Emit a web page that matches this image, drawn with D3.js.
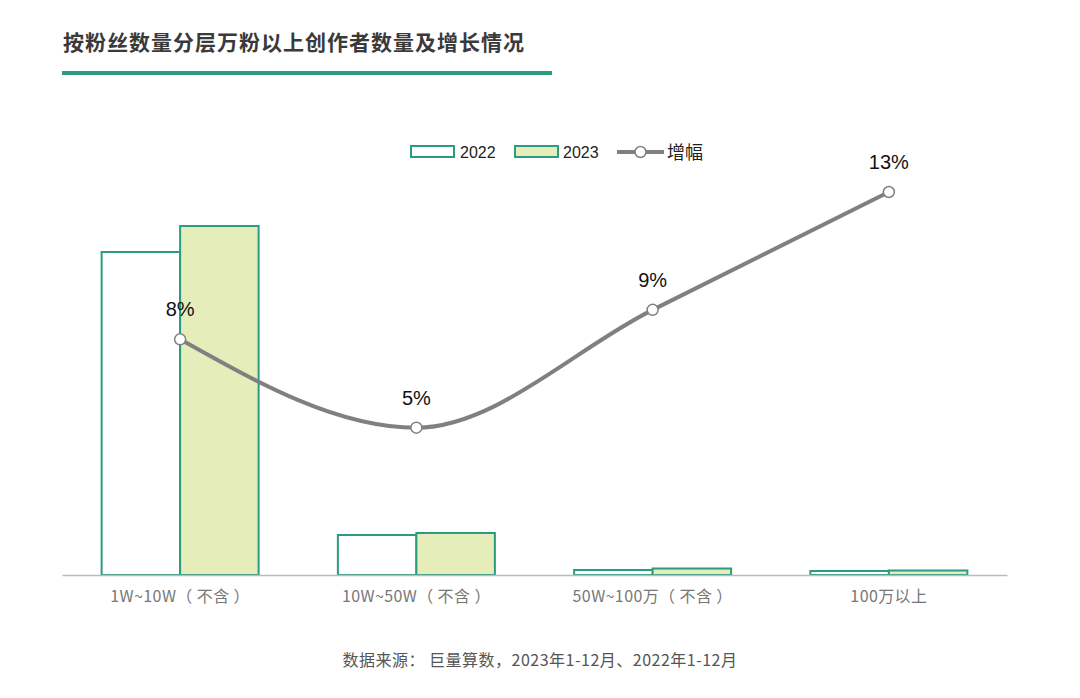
<!DOCTYPE html>
<html><head><meta charset="utf-8">
<script src="https://cdn.jsdelivr.net/npm/d3@7/dist/d3.min.js"></script>
<style>
html,body{margin:0;padding:0;background:#fff;}
svg{display:block;font-family:"Noto Sans CJK SC","Noto Sans",sans-serif;}
</style></head>
<body><svg id="c" width="1080" height="698"></svg>
<script>
const categories = ["1W~10W（ 不含 ）", "10W~50W（ 不含 ）", "50W~100万（ 不含 ）", "100万以上"];
const values2022 = [323, 40, 5, 4];
const values2023 = [349, 42, 6.5, 4.5];
const growth = [8, 5, 9, 13];
const growthLabels = ["8%", "5%", "9%", "13%"];
const seriesNames = ["2022", "2023", "增幅"];
const title = "按粉丝数量分层万粉以上创作者数量及增长情况";
const source = "数据来源： 巨量算数，2023年1-12月、2022年1-12月";

const svg = d3.select("#c");
const teal = "#2b9c80";
const fill23 = "#e5eebb";
const gray = "#808080";
const base = 575;

// title
svg.append("text").attr("x", 63).attr("y", 50).attr("font-size", 21).attr("font-weight", "bold")
  .attr("letter-spacing", 1).attr("fill", "#3a3a3a").text(title);
svg.append("rect").attr("x", 62).attr("y", 71).attr("width", 490).attr("height", 4).attr("fill", teal);

const x = d3.scaleBand().domain(categories).range([62, 1007]);
const inner = d3.scaleBand().domain(["2022", "2023"]).range([x.bandwidth()/2 - 78.5, x.bandwidth()/2 + 78.5]);
const y = d3.scaleLinear().domain([0, 349]).range([base, 226]);
const y2 = d3.scaleLinear().domain([0, 13]).range([base, 192]);

const g = svg.append("g");
const bars = [["2022", values2022, "#ffffff"], ["2023", values2023, fill23]];
bars.forEach(([name, vals, f]) => {
  g.selectAll(null).data(categories).enter().append("rect")
    .attr("x", d => x(d) + inner(name))
    .attr("y", (d, i) => y(vals[i]))
    .attr("width", inner.bandwidth())
    .attr("height", (d, i) => base - y(vals[i]))
    .attr("fill", f).attr("stroke", teal).attr("stroke-width", 2);
});

// axis
const axis = svg.append("g").attr("transform", `translate(0,${base})`).call(d3.axisBottom(x).tickSize(0).tickPadding(16));
axis.select(".domain").attr("stroke", "#bbbbbb").attr("stroke-width", 1.5);
axis.selectAll("text").attr("font-size", 16).attr("fill", "#777").attr("letter-spacing", 0.4)
  .attr("font-family", '"Noto Sans CJK SC",sans-serif');

// line
const cx = d => x(d) + x.bandwidth()/2;
const line = d3.line().x(d => cx(d[0])).y(d => y2(d[1])).curve(d3.curveMonotoneX);
svg.append("path").datum(categories.map((c, i) => [c, growth[i]])).attr("d", line)
  .attr("fill", "none").attr("stroke", gray).attr("stroke-width", 4);
svg.selectAll(null).data(categories).enter().append("circle")
  .attr("cx", d => cx(d)).attr("cy", (d, i) => y2(growth[i])).attr("r", 5.5)
  .attr("fill", "#fff").attr("stroke", gray).attr("stroke-width", 1.5);
svg.selectAll(null).data(categories).enter().append("text")
  .attr("x", d => cx(d)).attr("y", (d, i) => y2(growth[i]) - 23)
  .attr("text-anchor", "middle").attr("font-size", 20).attr("fill", "#111")
  .attr("font-family", '"Liberation Sans",Arial,sans-serif')
  .text((d, i) => growthLabels[i]);

// legend
const lg = svg.append("g").attr("font-size", 16).attr("fill", "#222");
lg.append("rect").attr("x", 411).attr("y", 146).attr("width", 43).attr("height", 11).attr("fill", "#fff").attr("stroke", teal).attr("stroke-width", 2);
lg.append("text").attr("x", 460).attr("y", 158).attr("font-family", '"Liberation Sans",Arial,sans-serif').text(seriesNames[0]);
lg.append("rect").attr("x", 515).attr("y", 146).attr("width", 43).attr("height", 11).attr("fill", fill23).attr("stroke", teal).attr("stroke-width", 2);
lg.append("text").attr("x", 563).attr("y", 158).attr("font-family", '"Liberation Sans",Arial,sans-serif').text(seriesNames[1]);
lg.append("line").attr("x1", 617).attr("x2", 664).attr("y1", 152).attr("y2", 152).attr("stroke", gray).attr("stroke-width", 4);
lg.append("circle").attr("cx", 640.5).attr("cy", 152).attr("r", 5.5).attr("fill", "#fff").attr("stroke", gray).attr("stroke-width", 1.5);
lg.append("text").attr("x", 667).attr("y", 159).attr("font-size", 18).text(seriesNames[2]);

// source
svg.append("text").attr("x", 540).attr("y", 666).attr("text-anchor", "middle").attr("font-size", 16)
  .attr("letter-spacing", 0.5).attr("fill", "#555").text(source);
</script></body></html>
